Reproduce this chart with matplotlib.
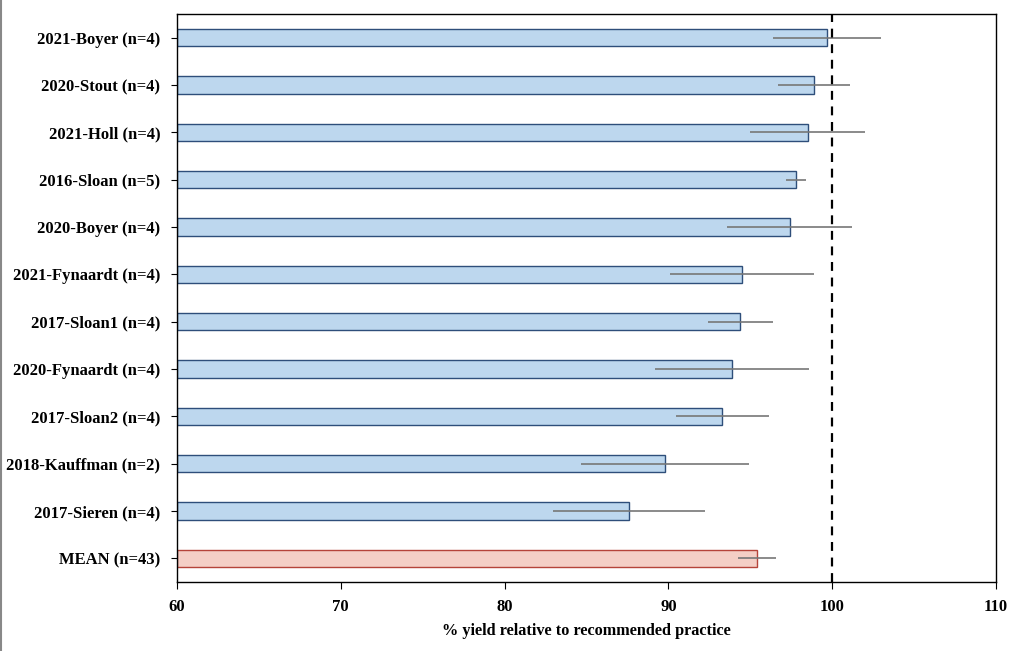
import matplotlib
matplotlib.use("Agg")
import matplotlib.pyplot as plt
from matplotlib.lines import Line2D

categories = ["2021-Boyer (n=4)", "2020-Stout (n=4)", "2021-Holl (n=4)", "2016-Sloan (n=5)",
              "2020-Boyer (n=4)", "2021-Fynaardt (n=4)", "2017-Sloan1 (n=4)", "2020-Fynaardt (n=4)",
              "2017-Sloan2 (n=4)", "2018-Kauffman (n=2)", "2017-Sieren (n=4)", "MEAN (n=43)"]
values = [99.7, 98.9, 98.5, 97.8, 97.4, 94.5, 94.4, 93.9, 93.3, 89.8, 87.6, 95.4]
errors = [3.3, 2.2, 3.5, 0.6, 3.8, 4.4, 2.0, 4.7, 2.85, 5.15, 4.65, 1.15]
xticks = [60, 70, 80, 90, 100, 110]

font = {"family": ["Liberation Serif", "DejaVu Serif"], "weight": "bold"}

fig = plt.figure(figsize=(10.24, 6.51), dpi=100)
ax = fig.add_axes([177/1024, 1 - 582/651, (996-177)/1024, (582-14)/651])

n = len(categories)
ypos = list(range(n))
fills = ["#BDD7EE"] * (n - 1) + ["#F4CFC6"]
edges = ["#2E4E7A"] * (n - 1) + ["#B5443A"]
ax.barh(ypos, [v - 60 for v in values], left=60, height=0.36, color=fills, edgecolor=edges, linewidth=1.0, zorder=2)
ax.errorbar(values, ypos, xerr=errors, fmt="none", ecolor="#777777", elinewidth=1.2, capsize=0, zorder=3)
ax.axvline(100, color="black", linestyle=(0, (4, 3)), linewidth=1.6, zorder=4)

ax.set_xlim(60, 110)
ax.set_ylim(n - 0.5, -0.5)
ax.set_xticks(xticks)
ax.set_xticklabels([str(t) for t in xticks], fontdict=font, fontsize=12)
ax.set_yticks(ypos)
ax.set_yticklabels(categories, fontdict=font, fontsize=12)
ax.tick_params(axis="y", length=4, width=0.8, pad=8)
ax.tick_params(axis="x", length=5, width=0.8, pad=7, direction="out")
for s in ax.spines.values():
    s.set_color("black")
    s.set_linewidth(1.0)
ax.set_xlabel("% yield relative to recommended practice", fontdict=font, fontsize=11.7, labelpad=6)

fig.add_artist(Line2D([1/1024, 1/1024], [0, 1], color="#888888", linewidth=1.5, transform=fig.transFigure))

fig.savefig("out.png", dpi=100)
